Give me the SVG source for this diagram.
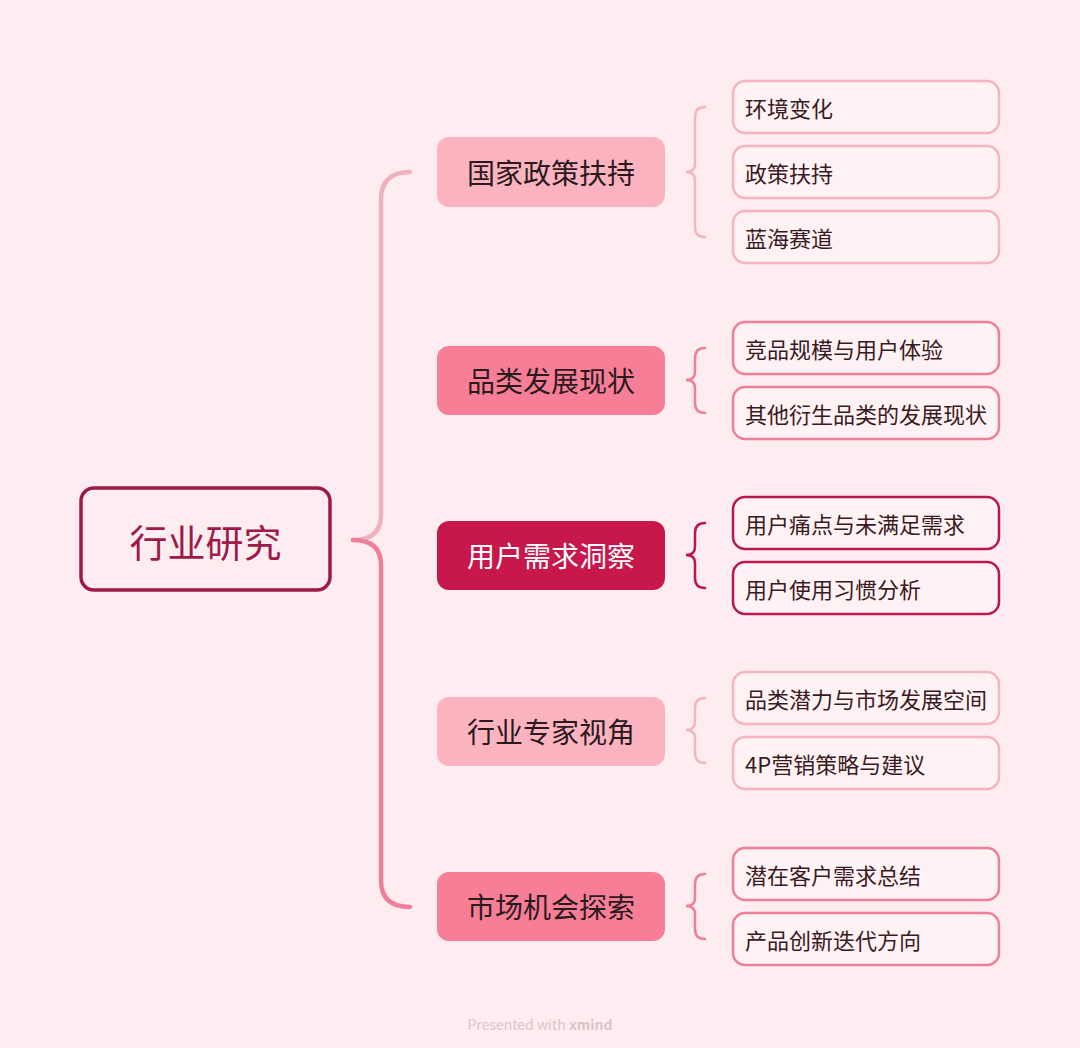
<svg xmlns="http://www.w3.org/2000/svg" width="1080" height="1048" viewBox="0 0 1080 1048">
<style>
text{font-family:"Noto Sans CJK SC","Noto Sans",sans-serif}
.br{font-size:28px;text-anchor:middle;dominant-baseline:central}
.lf{font-size:22px;fill:#3a1a22;dominant-baseline:central}
.leaf{fill:#fff2f4;stroke-width:2.5}
.g1{stroke:#f4b4c2}.g2{stroke:#ee7f99}.g3{stroke:#b8184b}
.brace{fill:none;stroke-width:2.5;stroke-linecap:round}
</style>
<rect width="1080" height="1048" fill="#fdedf0"/>
<g id="connectors" fill="none" stroke-linecap="round">
<path d="M353,540 Q381,540 381,515 L381,200 Q381,172 410,172" stroke="#f0b1bf" stroke-width="4.5"/>
<path d="M353,540 Q381,540 381,565 L381,880 Q381,907 410,907" stroke="#ef7f99" stroke-width="4.5"/>
<path class="brace g1" d="M705,107 Q695,107 695,117 L695,164 Q695,172 686,172 Q695,172 695,180 L695,227 Q695,237 705,237"/>
<path class="brace g2" d="M705,348 Q695,348 695,358 L695,372 Q695,380 686,380 Q695,380 695,388 L695,403 Q695,413 705,413"/>
<path class="brace g3" d="M705,523 Q695,523 695,533 L695,547 Q695,555 686,555 Q695,555 695,563 L695,578 Q695,588 705,588"/>
<path class="brace g1" d="M705,698 Q695,698 695,708 L695,722 Q695,730 686,730 Q695,730 695,738 L695,753 Q695,763 705,763"/>
<path class="brace g2" d="M705,874 Q695,874 695,884 L695,898 Q695,906 686,906 Q695,906 695,914 L695,929 Q695,939 705,939"/>
</g>
<g id="root">
<rect x="81" y="488" width="249" height="102" rx="13" fill="#fdedf0" stroke="#9e1a48" stroke-width="3.5"/>
<text x="205.5" y="540" font-size="38" text-anchor="middle" dominant-baseline="central" fill="#9e1a48">行业研究</text>
</g>
<g id="b1"><rect x="437" y="137" width="228" height="70" rx="12" fill="#fcb3c0"/><text class="br" x="551" y="172" fill="#2a1a1e">国家政策扶持</text></g>
<g id="b2"><rect x="437" y="346" width="228" height="69" rx="12" fill="#f77e96"/><text class="br" x="551" y="380" fill="#2a1a1e">品类发展现状</text></g>
<g id="b3"><rect x="437" y="521" width="228" height="69" rx="12" fill="#c8174b"/><text class="br" x="551" y="555" fill="#ffffff">用户需求洞察</text></g>
<g id="b4"><rect x="437" y="697" width="228" height="69" rx="12" fill="#fcb3c0"/><text class="br" x="551" y="731" fill="#2a1a1e">行业专家视角</text></g>
<g id="b5"><rect x="437" y="872" width="228" height="69" rx="12" fill="#f77e96"/><text class="br" x="551" y="906" fill="#2a1a1e">市场机会探索</text></g>
<g id="l1a"><rect class="leaf g1" x="733" y="81" width="266" height="52" rx="12"/><text class="lf" x="745" y="107">环境变化</text></g>
<g id="l1b"><rect class="leaf g1" x="733" y="146" width="266" height="52" rx="12"/><text class="lf" x="745" y="172">政策扶持</text></g>
<g id="l1c"><rect class="leaf g1" x="733" y="211" width="266" height="52" rx="12"/><text class="lf" x="745" y="237">蓝海赛道</text></g>
<g id="l2a"><rect class="leaf g2" x="733" y="322" width="266" height="52" rx="12"/><text class="lf" x="745" y="348">竞品规模与用户体验</text></g>
<g id="l2b"><rect class="leaf g2" x="733" y="387" width="266" height="52" rx="12"/><text class="lf" x="745" y="413">其他衍生品类的发展现状</text></g>
<g id="l3a"><rect class="leaf g3" x="733" y="497" width="266" height="52" rx="12"/><text class="lf" x="745" y="523">用户痛点与未满足需求</text></g>
<g id="l3b"><rect class="leaf g3" x="733" y="562" width="266" height="52" rx="12"/><text class="lf" x="745" y="588">用户使用习惯分析</text></g>
<g id="l4a"><rect class="leaf g1" x="733" y="672" width="266" height="52" rx="12"/><text class="lf" x="745" y="698">品类潜力与市场发展空间</text></g>
<g id="l4b"><rect class="leaf g1" x="733" y="737" width="266" height="52" rx="12"/><text class="lf" x="745" y="763">4P营销策略与建议</text></g>
<g id="l5a"><rect class="leaf g2" x="733" y="848" width="266" height="52" rx="12"/><text class="lf" x="745" y="874">潜在客户需求总结</text></g>
<g id="l5b"><rect class="leaf g2" x="733" y="913" width="266" height="52" rx="12"/><text class="lf" x="745" y="939">产品创新迭代方向</text></g>
<text x="540" y="1024" font-size="14" text-anchor="middle" dominant-baseline="central" fill="#d9c6cb">Presented with <tspan font-weight="bold">xmind</tspan></text>
</svg>
